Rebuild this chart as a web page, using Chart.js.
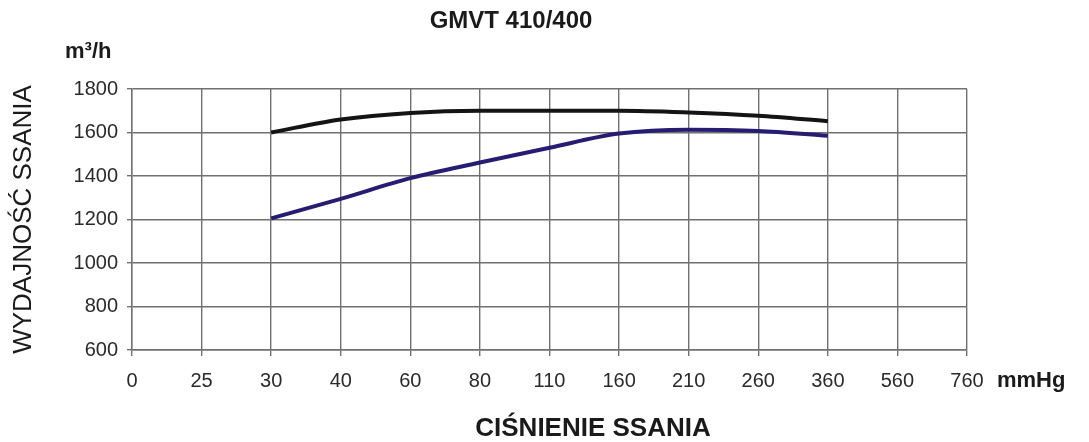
<!DOCTYPE html>
<html>
<head>
<meta charset="utf-8">
<script src="https://cdn.jsdelivr.net/npm/chart.js@4/dist/chart.umd.min.js"></script>
<style>
  html, body { margin: 0; padding: 0; background: #fff; }
  #wrap { position: relative; width: 1089px; height: 442px; }
</style>
</head>
<body>
<div id="wrap"><canvas id="chart" width="1089" height="442"></canvas></div>
<script>
const FONT = "'Liberation Sans', Arial, sans-serif";

// suction pressure categories (mmHg)
const pressureLabels = ["0", "25", "30", "40", "60", "80", "110", "160", "210", "260", "360", "560", "760"];
// flow rate m3/h
const upperCurve = [null, null, 1600, 1660, 1690, 1700, 1700, 1700, 1692, 1677, 1652, null, null];
const lowerCurve = [null, null, 1205, 1295, 1390, 1462, 1530, 1595, 1613, 1607, 1585, null, null];
const yTicks = [600, 800, 1000, 1200, 1400, 1600, 1800];

const chartTitle = "GMVT 410/400";
const yUnit = "m³/h";
const xUnit = "mmHg";
const xTitle = "CIŚNIENIE SSANIA";
const yTitle = "WYDAJNOŚĆ SSANIA";

// extra texts that sit outside the normal axis slots
const extraText = {
  id: "extraText",
  afterDraw(chart) {
    const { ctx, chartArea } = chart;
    ctx.save();
    ctx.fillStyle = "#1a1a1a";
    ctx.textBaseline = "middle";

    ctx.font = "bold 24px " + FONT;
    ctx.textAlign = "center";
    ctx.fillText(chartTitle, 511, 21);

    ctx.font = "bold 26px " + FONT;
    ctx.fillText(xTitle, 593, 429);

    ctx.font = "bold 22px " + FONT;
    ctx.textAlign = "left";
    ctx.fillText(yUnit, 65, 52);
    ctx.fillText(xUnit, chartArea.right + 30, 381);
    ctx.restore();
  },
};

new Chart(document.getElementById("chart"), {
  type: "line",
  data: {
    labels: pressureLabels,
    datasets: [
      {
        data: upperCurve,
        borderColor: "#141414",
        borderWidth: 4,
        pointRadius: 0,
        tension: 0.3,
        cubicInterpolationMode: "monotone",
        fill: false,
      },
      {
        data: lowerCurve,
        borderColor: "#261c72",
        borderWidth: 4,
        pointRadius: 0,
        tension: 0.3,
        cubicInterpolationMode: "monotone",
        fill: false,
      },
    ],
  },
  options: {
    responsive: false,
    animation: false,
    layout: { padding: { left: 0, right: 122, top: 89, bottom: 0 } },
    plugins: { legend: { display: false }, tooltip: { enabled: false }, title: { display: false } },
    scales: {
      x: {
        type: "category",
        offset: false,
        grid: { color: "#707070", lineWidth: 1.4, tickLength: 6, drawTicks: true },
        border: { color: "#707070", width: 1.4 },
        ticks: {
          color: "#2a2a2a",
          font: { family: FONT, size: 20 },
          padding: 13,
          maxRotation: 0,
          autoSkip: false,
        },
        afterFit: (scale) => { scale.height = 92; },
      },
      y: {
        min: 600,
        max: 1800,
        afterBuildTicks: (scale) => { scale.ticks = yTicks.map((v) => ({ value: v })); },
        grid: { color: "#707070", lineWidth: 1.4, tickLength: 5 },
        border: { color: "#707070", width: 1.4 },
        ticks: {
          color: "#2a2a2a",
          font: { family: FONT, size: 20 },
          padding: 9,
          callback: (v) => String(v),
        },
        title: {
          display: true,
          text: yTitle,
          color: "#1a1a1a",
          font: { family: FONT, size: 26, lineHeight: 1 },
          padding: { top: 11, bottom: 0 },
        },
        afterFit: (scale) => { scale.width = 132; },
      },
    },
  },
  plugins: [extraText],
});
</script>
</body>
</html>
